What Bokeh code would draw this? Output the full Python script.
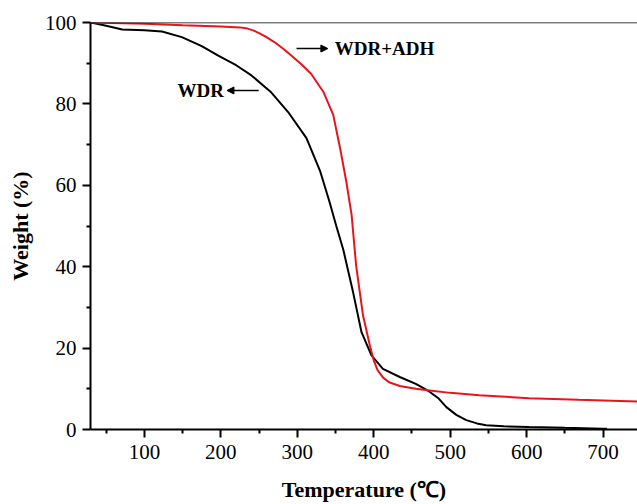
from bokeh.plotting import figure
from bokeh.models import FixedTicker, Span, Arrow, NormalHead, Label
from bokeh.embed import file_html
from bokeh.resources import INLINE

# --- data ---
wdr_temp = [30, 50, 71, 100, 123, 149, 175, 196, 220, 240, 265, 288, 312, 330, 342,
            351, 360, 373, 384, 397, 412, 434, 455, 472, 485, 495, 508, 521, 535,
            547, 570, 603, 650, 699, 705]
wdr_weight = [100, 99.2, 98.3, 98.1, 97.8, 96.4, 94.2, 91.9, 89.5, 87.0, 83.0, 78.0,
              71.6, 63.4, 56.0, 50.0, 44.3, 33.7, 23.9, 18.2, 14.9, 12.9, 11.2, 9.4,
              7.6, 5.5, 3.6, 2.3, 1.5, 1.05, 0.8, 0.6, 0.4, 0.2, 0.2]

adh_temp = [30, 100, 150, 200, 225, 235, 243, 250, 258, 270, 282, 294, 306, 318, 334, 347,
            356, 364, 371, 377, 386, 395, 400, 405, 412, 420, 434, 455, 473, 500,
            538, 603, 668, 745]
adh_weight = [100, 99.7, 99.3, 99.0, 98.8, 98.5, 98.0, 97.4, 96.6, 95.2, 93.5, 91.6, 89.6,
              87.4, 83.0, 77.3, 69.1, 61.0, 52.8, 40.2, 28.0, 20.6, 17.0, 14.6, 12.8,
              11.6, 10.7, 10.0, 9.6, 9.0, 8.4, 7.7, 7.3, 6.9]

x_major = [100, 200, 300, 400, 500, 600, 700]
x_minor = [50, 150, 250, 350, 450, 550, 650, 750]
y_major = [0, 20, 40, 60, 80, 100]
y_minor = [10, 30, 50, 70, 90]

series_labels = ["WDR", "WDR+ADH"]

SERIF = "Liberation Serif"

p = figure(width=637, height=504, output_backend="svg", toolbar_location=None,
           x_range=(29.5, 745), y_range=(0, 100),
           min_border_left=90, min_border_right=0, min_border_top=22,
           min_border_bottom=73)
p.background_fill_color = "white"
p.border_fill_color = "white"
p.outline_line_color = None
p.grid.visible = False

p.line(wdr_temp, wdr_weight, line_color="black", line_width=2)
p.line(adh_temp, adh_weight, line_color="#e8141c", line_width=2)

# frame top line
p.add_layout(Span(location=100, dimension="width", line_color="black", line_width=1.5))

for ax in (p.xaxis[0], p.yaxis[0]):
    ax.axis_line_width = 2
    ax.major_tick_line_width = 2
    ax.minor_tick_line_width = 2
    ax.major_tick_out = 8
    ax.major_tick_in = 0
    ax.minor_tick_out = 4
    ax.minor_tick_in = 0
    ax.major_label_text_font = SERIF
    ax.major_label_text_font_size = "21px"
    ax.major_label_text_color = "black"
    ax.axis_label_text_font = SERIF
    ax.axis_label_text_font_style = "bold"
    ax.axis_label_text_font_size = "22px"
    ax.axis_label_text_color = "black"

p.xaxis[0].ticker = FixedTicker(ticks=x_major, minor_ticks=x_minor)
p.yaxis[0].ticker = FixedTicker(ticks=y_major, minor_ticks=y_minor)
p.xaxis[0].axis_label = "Temperature (\u2103)"
p.yaxis[0].axis_label = "Weight (%)"
p.xaxis[0].major_label_standoff = 7
p.yaxis[0].major_label_standoff = 6
p.xaxis[0].axis_label_standoff = 15
p.yaxis[0].axis_label_standoff = 9

# annotations
head = dict(size=7, fill_color="black", line_color="black")
p.add_layout(Arrow(end=NormalHead(**head), x_start=299, y_start=93.6, x_end=340, y_end=93.6,
                   line_color="black", line_width=1.5))
p.add_layout(Label(x=349, y=93.6, text=series_labels[1], text_font=SERIF,
                   text_font_style="bold", text_font_size="19px", text_baseline="middle",
                   text_color="black"))
p.add_layout(Arrow(end=NormalHead(**head), x_start=249.5, y_start=83.3, x_end=208, y_end=83.3,
                   line_color="black", line_width=1.5))
p.add_layout(Label(x=204, y=83.3, text=series_labels[0], text_font=SERIF,
                   text_font_style="bold", text_font_size="19px", text_baseline="middle",
                   text_align="right", text_color="black"))

open("out.html", "w").write(file_html(p, INLINE))
